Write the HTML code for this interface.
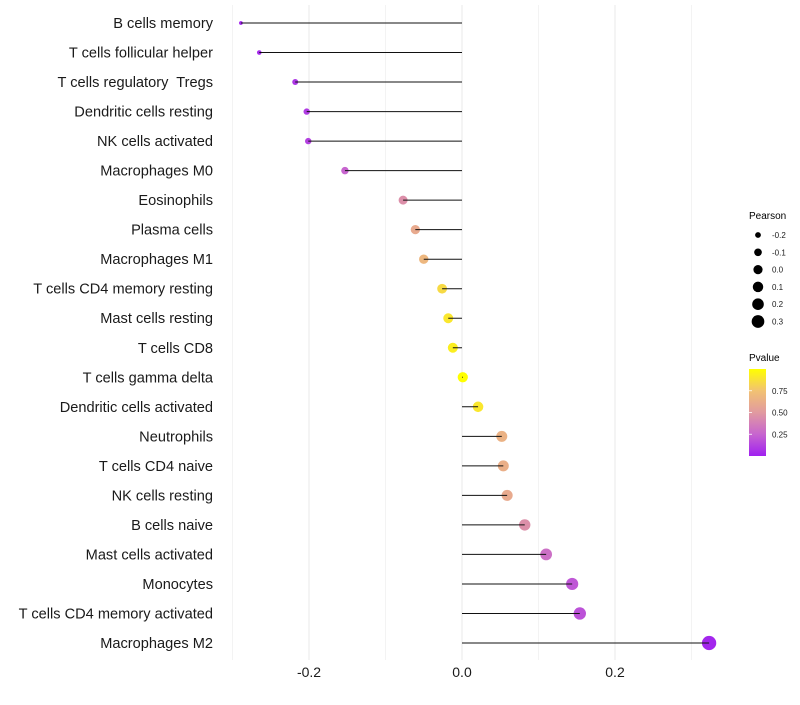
<!DOCTYPE html>
<html><head><meta charset="utf-8"><style>
body{margin:0;background:#fff;font-family:"Liberation Sans",sans-serif}
svg text{font-family:"Liberation Sans",sans-serif;white-space:pre}
</style></head><body>
<svg id="chart" width="800" height="700" xmlns="http://www.w3.org/2000/svg">
<g id="grid"></g>
<g id="marks"></g>
<g id="ylab"></g>
<g id="xlab"></g>
<g id="legend">
 <text x="749" y="219" font-size="10">Pearson</text>
 <text x="749" y="361" font-size="10">Pvalue</text>
 <defs><linearGradient id="pg" x1="0" y1="1" x2="0" y2="0">
  <stop offset="0" stop-color="#a020f0"/><stop offset="0.25" stop-color="#c765cf"/><stop offset="0.5" stop-color="#e19aa0"/><stop offset="0.75" stop-color="#f2c272"/><stop offset="1" stop-color="#ffff00"/></linearGradient></defs>
 <rect x="749" y="369" width="17" height="87" fill="url(#pg)"/>
</g>
</svg>
<script>
const categories=["B cells memory","T cells follicular helper","T cells regulatory  Tregs","Dendritic cells resting","NK cells activated","Macrophages M0","Eosinophils","Plasma cells","Macrophages M1","T cells CD4 memory resting","Mast cells resting","T cells CD8","T cells gamma delta","Dendritic cells activated","Neutrophils","T cells CD4 naive","NK cells resting","B cells naive","Mast cells activated","Monocytes","T cells CD4 memory activated","Macrophages M2"];
const pearson=[-0.289,-0.265,-0.218,-0.203,-0.201,-0.153,-0.077,-0.061,-0.050,-0.026,-0.018,-0.012,0.001,0.021,0.052,0.054,0.059,0.082,0.110,0.144,0.154,0.323];
const pvalue=[0.01,0.03,0.08,0.10,0.12,0.25,0.45,0.6,0.68,0.85,0.9,0.93,1.0,0.9,0.65,0.63,0.6,0.45,0.3,0.2,0.18,0.02];
const xTicks=[-0.2,0.0,0.2];
const xGrid=[-0.3,-0.2,-0.1,0,0.1,0.2,0.3];
const sizeLegend=[-0.2,-0.1,0.0,0.1,0.2,0.3];
const pTicks=[0.75,0.5,0.25];
const NS="http://www.w3.org/2000/svg";
const X=v=>462+v*765;
const Y=i=>23+i*(620/21);
const R=v=>Math.sqrt(Math.max(2,26+78*v));
const stops=[[0,[160,32,240]],[0.25,[199,101,207]],[0.5,[225,154,160]],[0.75,[242,194,114]],[1,[255,255,0]]];
function col(p){for(let i=0;i<stops.length-1;i++){const[a,ca]=stops[i],[b,cb]=stops[i+1];if(p<=b){const t=(p-a)/(b-a);return`rgb(${ca.map((c,k)=>Math.round(c+(cb[k]-c)*t)).join(",")})`;}}return"rgb(255,255,0)";}
function mk(tag,attrs,parent){const e=document.createElementNS(NS,tag);for(const k in attrs)e.setAttribute(k,attrs[k]);parent.appendChild(e);return e;}
const grid=document.getElementById('grid'),marks=document.getElementById('marks'),ylab=document.getElementById('ylab'),xlab=document.getElementById('xlab'),legend=document.getElementById('legend');
xGrid.forEach(v=>{const l=mk('line',{x1:X(v),x2:X(v),y1:5,y2:660,stroke:'#ebebeb','stroke-width':Math.abs(v*10)%2===1?0.6:1.1},grid);

});
categories.forEach((c,i)=>{const y=Y(i);
const d=mk('circle',{cx:X(pearson[i]),cy:y,r:R(pearson[i]),fill:col(pvalue[i])},marks);


const l=mk('line',{x1:X(0),x2:X(pearson[i]),y1:y,y2:y,stroke:'#111','stroke-width':1},marks);


const t=mk('text',{x:213,y:y+5,'font-size':14.6,'text-anchor':'end',fill:'#1a1a1a'},ylab);t.textContent=c;

});
xTicks.forEach(v=>{const t=mk('text',{x:X(v),y:677,'font-size':14,'text-anchor':'middle',fill:'#1a1a1a'},xlab);t.textContent=v.toFixed(1);

});
sizeLegend.forEach((v,i)=>{const y=235+i*17.3;
const c=mk('circle',{cx:758,cy:y,r:R(v)*0.9,fill:'#000'},legend);


const t=mk('text',{x:772,y:y+3,'font-size':8,fill:'#1a1a1a'},legend);t.textContent=v.toFixed(1);

});
pTicks.forEach(p=>{const y=456-p*87;
const l=mk('line',{x1:749,x2:752,y1:y,y2:y,stroke:'#fff','stroke-width':0.8},legend);


const t=mk('text',{x:772,y:y+3,'font-size':8,fill:'#1a1a1a'},legend);t.textContent=p.toFixed(2);

});
</script>
</body></html>
